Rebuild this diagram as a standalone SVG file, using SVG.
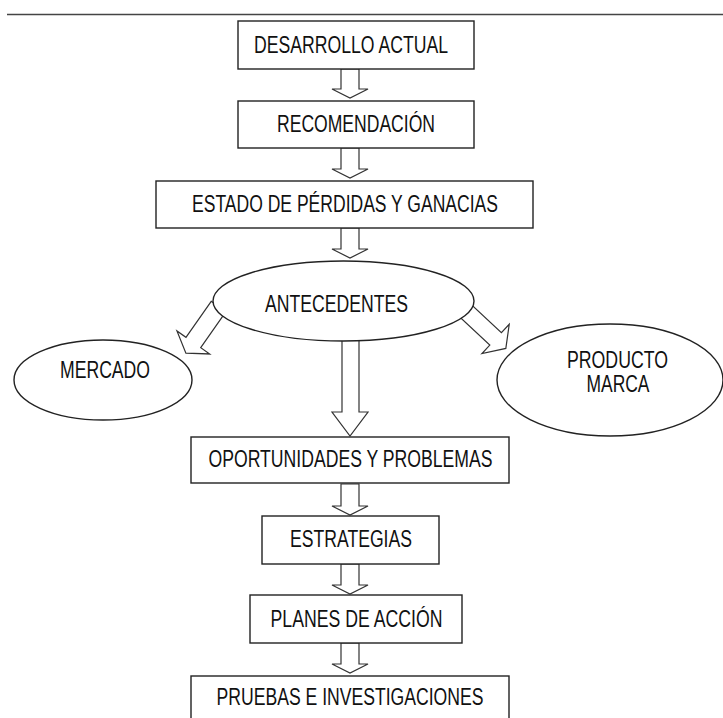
<svg xmlns="http://www.w3.org/2000/svg" width="723" height="718" viewBox="0 0 723 718">
<style>
.n{fill:#fff;stroke:#222;stroke-width:1.4}
.a{fill:#fff;stroke:#333;stroke-width:1.2;stroke-linejoin:miter}
.t{font-family:"Liberation Sans",Arial,sans-serif;font-size:23px;fill:#111;text-anchor:middle}
</style>
<rect width="723" height="718" fill="#fff"/>
<line x1="7" y1="14.5" x2="723" y2="14.5" stroke="#444" stroke-width="1.5"/>
<g id="connectors">
<path class="a" d="M341,69 L359,69 L359,89 L368,89 L350,98 L332,89 L341,89 Z"/>
<path class="a" d="M341,148 L359,148 L359,169 L368,169 L350,178 L332,169 L341,169 Z"/>
<path class="a" d="M341,228 L359,228 L359,249 L368,249 L350,258 L332,249 L341,249 Z"/>
<path class="a" d="M342,330 L359,330 L359,412 L368,412 L350,436 L332,412 L342,412 Z"/>
<path class="a" d="M341,484 L359,484 L359,506 L368,506 L350,515 L332,506 L341,506 Z"/>
<path class="a" d="M341,564 L359,564 L359,585 L368,585 L350,594 L332,585 L341,585 Z"/>
<path class="a" d="M341,643 L359,643 L359,664 L368,664 L350,673 L332,664 L341,664 Z"/>
<path class="a" transform="translate(214,313) rotate(35)" d="M-9,-8 L9,-8 L9,36 L20,36 L0,49 L-20,36 L-9,36 Z"/>
<path class="a" transform="translate(470,315) rotate(-47)" d="M-8.5,-8 L8.5,-8 L8.5,35 L20,35 L0,49 L-20,35 L-8.5,35 Z"/>
</g>
<g id="desarrollo"><rect class="n" x="238" y="21" width="236" height="48"/><text class="t" x="351" y="52.5" textLength="194" lengthAdjust="spacingAndGlyphs">DESARROLLO ACTUAL</text></g>
<g id="recomendacion"><rect class="n" x="238" y="101" width="236" height="47"/><text class="t" x="356" y="132" textLength="158" lengthAdjust="spacingAndGlyphs">RECOMENDACIÓN</text></g>
<g id="estado"><rect class="n" x="156" y="181" width="377" height="47"/><text class="t" x="345" y="212" textLength="306" lengthAdjust="spacingAndGlyphs">ESTADO DE PÉRDIDAS Y GANACIAS</text></g>
<g id="antecedentes"><ellipse class="n" cx="343.5" cy="301" rx="130.5" ry="40"/><text class="t" x="336.5" y="312" textLength="143" lengthAdjust="spacingAndGlyphs">ANTECEDENTES</text></g>
<g id="mercado"><ellipse class="n" cx="103" cy="380" rx="89" ry="40"/><text class="t" x="105" y="378" textLength="90" lengthAdjust="spacingAndGlyphs">MERCADO</text></g>
<g id="producto"><ellipse class="n" cx="610" cy="380" rx="113" ry="56"/><text class="t" x="617.5" y="368" textLength="101" lengthAdjust="spacingAndGlyphs">PRODUCTO</text><text class="t" x="618" y="392" textLength="63" lengthAdjust="spacingAndGlyphs">MARCA</text></g>
<g id="oportunidades"><rect class="n" x="191" y="437" width="318" height="46"/><text class="t" x="350.5" y="467" textLength="284" lengthAdjust="spacingAndGlyphs">OPORTUNIDADES Y PROBLEMAS</text></g>
<g id="estrategias"><rect class="n" x="262" y="516" width="177" height="48"/><text class="t" x="351" y="547" textLength="122" lengthAdjust="spacingAndGlyphs">ESTRATEGIAS</text></g>
<g id="planes"><rect class="n" x="250" y="595" width="212" height="48"/><text class="t" x="356.5" y="627" textLength="172" lengthAdjust="spacingAndGlyphs">PLANES DE ACCIÓN</text></g>
<g id="pruebas"><rect class="n" x="191" y="676" width="318" height="60"/><text class="t" x="350" y="705" textLength="267" lengthAdjust="spacingAndGlyphs">PRUEBAS E INVESTIGACIONES</text></g>
</svg>
